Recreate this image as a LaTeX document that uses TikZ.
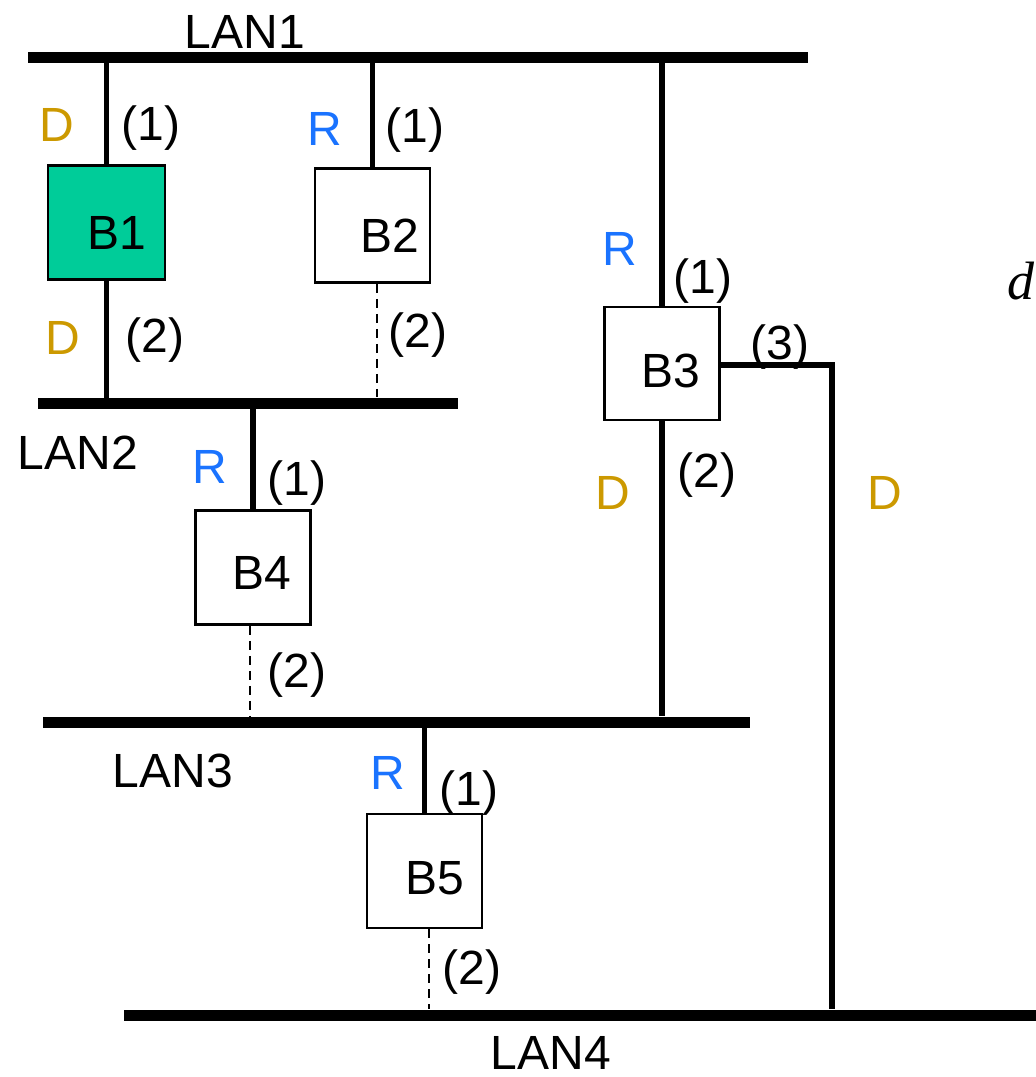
\documentclass[tikz,border=0pt]{standalone}
\usepackage{fontspec}
\setmainfont{Liberation Sans}
\newfontfamily\serifit{Liberation Serif}
\definecolor{teal1}{RGB}{0,204,153}
\definecolor{goldD}{RGB}{204,153,0}
\definecolor{blueR}{RGB}{26,115,255}
\begin{document}
\begin{tikzpicture}[x=1pt,y=-1pt,
  bar/.style={fill=black,inner sep=0pt,minimum height=11pt},
  box/.style={draw=black,line width=2.8pt,minimum width=115pt,minimum height=114pt,inner sep=0pt},
  lbl/.style={anchor=base,inner sep=0pt,font=\fontsize{48}{56}\selectfont},
  dl/.style={lbl,text=goldD},
  rl/.style={lbl,text=blueR},
  link/.style={line width=5.5pt},
  dlink/.style={line width=2pt,dash pattern=on 9pt off 6pt}]
\useasboundingbox (0,0) rectangle (1036,1077);
% LAN bars
\node[bar,minimum width=780pt] (lan1) at (418,57) {};
\node[bar,minimum width=420pt] (lan2) at (248,403) {};
\node[bar,minimum width=707pt] (lan3) at (396.5,722) {};
\node[bar,minimum width=930pt] (lan4) at (589,1015) {};
% boxes
\node[box,fill=teal1,minimum width=117pt] (b1) at (106.5,222.5) {};
\node[box] (b2) at (372.5,225.5) {};
\node[box,minimum height=113pt] (b3) at (662,363.5) {};
\node[box] (b4) at (253,567.5) {};
\node[box] (b5) at (424.5,871) {};
\coordinate (c3) at (832,365);
% connectors
\draw[link] (b1.north) -- (b1.north |- lan1.center);
\draw[link] (b1.south) -- (b1.south |- lan2.center);
\draw[link] (b2.north) -- (b2.north |- lan1.center);
\draw[dlink] ([xshift=4pt]b2.south) -- ([xshift=4pt]b2.south |- lan2.north);
\draw[link] (b3.north) -- (b3.north |- lan1.center);
\draw[link] (b3.south) -- (b3.south |- lan3.north);
\draw[link] (b3.east |- c3) -- (c3) -- (c3 |- lan4.north);
\draw[link] (b4.north) -- (b4.north |- lan2.center);
\draw[dlink] ([xshift=-3pt]b4.south) -- ([xshift=-3pt]b4.south |- lan3.north);
\draw[link] (b5.north) -- (b5.north |- lan3.center);
\draw[dlink] ([xshift=4pt]b5.south) -- ([xshift=4pt]b5.south |- lan4.north);
% box texts
\node[lbl] (t1) at (117,249) {B1};
\node[lbl] (t2) at (390,252) {B2};
\node[lbl] (t3) at (671,387) {B3};
\node[lbl] (t4) at (262,589) {B4};
\node[lbl] (t5) at (435,894) {B5};
% LAN labels
\node[lbl] (l1) at (245,48) {LAN1};
\node[lbl] (l2) at (78,469) {LAN2};
\node[lbl] (l3) at (173,787) {LAN3};
\node[lbl] (l4) at (551,1069) {LAN4};
% port labels
\node[dl] (d1a) at (57,141) {D};
\node[lbl] (p1a) at (151,140) {(1)};
\node[dl] (d1b) at (63,354) {D};
\node[lbl] (p1b) at (155,352) {(2)};
\node[rl] (r2) at (325,145) {R};
\node[lbl] (p2a) at (415,142) {(1)};
\node[lbl] (p2b) at (418,347) {(2)};
\node[rl] (r3) at (620,265) {R};
\node[lbl] (p3a) at (703,293) {(1)};
\node[lbl] (p3c) at (780,359) {(3)};
\node[dl] (d3b) at (613,509) {D};
\node[lbl] (p3b) at (707,487) {(2)};
\node[dl] (d3c) at (885,509) {D};
\node[rl] (r4) at (210,483) {R};
\node[lbl] (p4a) at (297,495) {(1)};
\node[lbl] (p4b) at (297,687) {(2)};
\node[rl] (r5) at (388,789) {R};
\node[lbl] (p5a) at (469,805) {(1)};
\node[lbl] (p5b) at (472,984) {(2)};
\node[anchor=base,inner sep=0pt,font=\fontsize{54}{60}\serifit\itshape] (dd) at (1021,299) {d};
\end{tikzpicture}
\end{document}
